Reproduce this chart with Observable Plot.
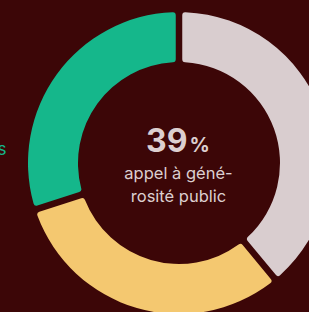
<!DOCTYPE html>
<html><head><meta charset="utf-8">
<script src="https://cdn.jsdelivr.net/npm/d3@7"></script>
<script src="https://cdn.jsdelivr.net/npm/@observablehq/plot@0.6"></script>
<style>html,body{margin:0;padding:0;background:#3c0607;overflow:hidden}svg{display:block}</style>
</head><body><div id="chart"></div>
<script>
const categories = ["appel à générosité public", "autres financements", "subventions publiques"];
const shares = [39, 31, 30];
const colors = ["#d9cdcf", "#f4c870", "#15b78b"];
const centerValue = "39";
const centerUnit = "%";
const centerLines = ["appel à géné-", "rosité public"];
const sideLabel = "subventions publiques";

const data = categories.map((c, i) => ({category: c, share: shares[i]}));
const CX = 179, CY = 163, R0 = 101, R1 = 151;
const FONT = "Inter, 'DejaVu Sans', sans-serif";
const TXT = "#dccfd0";

function donut(...args) {
  const scales = args.find(a => a && typeof a.x === "function" && typeof a.y === "function");
  const color = (scales && scales.color) ? scales.color : Plot.scale({color: {domain: categories, range: colors}}).apply;
  const cx = scales.x(CX), cy = scales.y(CY);
  const pie = d3.pie().sort(null).value(d => d.share).startAngle(0).endAngle(2 * Math.PI);
  const arc = d3.arc().innerRadius(R0).outerRadius(R1).padAngle(6.5 / 125).padRadius(125).cornerRadius(3);
  const g = d3.create("svg:g").attr("transform", `translate(${cx},${cy})`);
  g.selectAll("path").data(pie(data)).join("path").attr("d", arc).attr("fill", d => color(d.data.category));
  return g.node();
}

const chart = Plot.plot({
  width: 309, height: 312,
  margin: 0,
  style: {background: "#3c0607", overflow: "hidden"},
  x: {domain: [0, 309], range: [0, 309], axis: null},
  y: {domain: [0, 312], range: [0, 312], axis: null},
  color: {domain: categories, range: colors},
  marks: [
    donut,
    Plot.text([centerValue], {x: () => 187, y: () => 151, text: d => d, textAnchor: "end", lineAnchor: "bottom", fontSize: 32, fontWeight: 700, fill: TXT, fontFamily: FONT}),
    Plot.text([centerUnit], {x: () => 189, y: () => 151, text: d => d, textAnchor: "start", lineAnchor: "bottom", fontSize: 20, fontWeight: 700, fill: TXT, fontFamily: FONT}),
    Plot.text(centerLines, {x: () => 178, y: (d, i) => 178 + i * 23, text: d => d, lineAnchor: "bottom", fontSize: 16.5, fill: TXT, fontFamily: FONT}),
    Plot.text([sideLabel], {x: () => 6, y: () => 154, text: d => d, textAnchor: "end", lineAnchor: "bottom", fontSize: 17, fill: colors[2], fontFamily: FONT})
  ]
});
document.getElementById("chart").append(chart);
</script>
</body></html>
